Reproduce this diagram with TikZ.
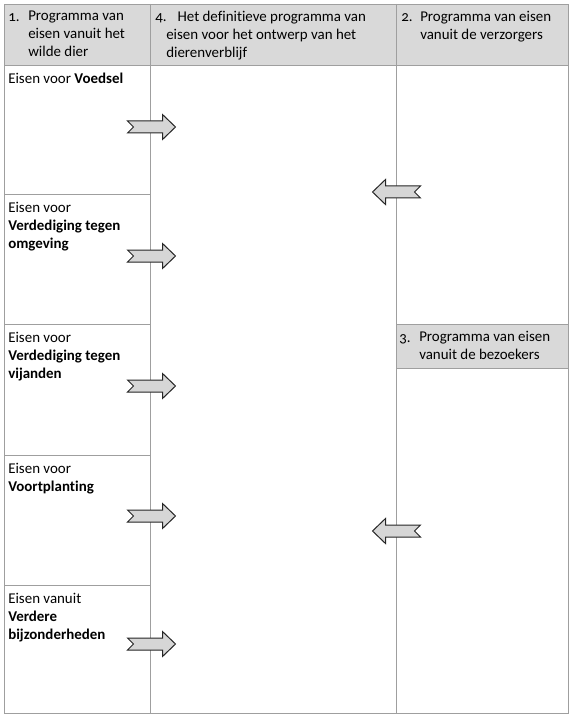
\documentclass[tikz,border=0pt]{standalone}
\usepackage{fontspec}
\setmainfont{Carlito}[Ligatures=NoCommon]
\newfontfamily\oldnum{Carlito}[Numbers=OldStyle]
\begin{document}
\begin{tikzpicture}[x=0.75pt,y=-0.75pt,
  grid/.style={draw=gray!75,line width=0.6pt},
  headfill/.style={fill=black!15,draw=none},
  cell/.style={anchor=north west,inner sep=0pt,align=left,font=\fontsize{11.2pt}{13.5pt}\selectfont,
    execute at begin node=\rule{0pt}{8pt}},
  numcell/.style={cell,font=\fontsize{11.2pt}{13.5pt}\selectfont\oldnum},
  arrowshape/.style={draw=black!85,fill=black!16,line width=0.75pt,line join=miter},
  rarrow/.pic={\path[arrowshape] (-24,-6) -- (11,-6) -- (11,-12.5) -- (24,0) -- (11,12.5) -- (11,6) -- (-24,6) -- (-18,0) -- cycle;},
  larrow/.pic={\path[arrowshape,xscale=-1] (-24,-6) -- (11,-6) -- (11,-12.5) -- (24,0) -- (11,12.5) -- (11,6) -- (-24,6) -- (-18,0) -- cycle;}
]
\useasboundingbox (0,0) rectangle (575,720);
% header fills
\path[headfill] (4,4) rectangle (568,65);
\path[headfill] (396,324) rectangle (568,368);
% grid
\draw[grid] (4,4) rectangle (568,713);
\draw[grid] (150,4) -- (150,713);
\draw[grid] (396,4) -- (396,713);
\draw[grid] (4,65) -- (568,65);
\foreach \yy in {194,324,455,585} \draw[grid] (4,\yy) -- (150,\yy);
\draw[grid] (396,324) -- (568,324);
\draw[grid] (396,368) -- (568,368);
% header texts (node placed 10.67px above first baseline)
\node[numcell] (h1n) at (8,10.8) {1.};
\node[cell] (h1) at (28,10.8) {Programma van\\eisen vanuit het\\wilde dier};
\node[numcell] (h4n) at (155,10.8) {4.};
\node[cell] (h4) at (166,10.8) {\hspace*{8.5pt}Het definitieve programma van\\eisen voor het ontwerp van het\\dierenverblijf};
\node[numcell] (h2n) at (401,10.8) {2.};
\node[cell] (h2) at (420,10.8) {Programma van eisen\\vanuit de verzorgers};
\node[numcell] (h3n) at (399,331.3) {3.};
\node[cell] (h3) at (419,331.3) {Programma van eisen\\vanuit de bezoekers};
% row texts
\node[cell] (r1) at (8,72.8) {Eisen voor \textbf{Voedsel}};
\node[cell] (r2) at (8,201.8) {Eisen voor\\\textbf{Verdediging tegen}\\\textbf{omgeving}};
\node[cell] (r3) at (8,331.8) {Eisen voor\\\textbf{Verdediging tegen}\\\textbf{vijanden}};
\node[cell] (r4) at (8,462.8) {Eisen voor\\\textbf{Voortplanting}};
\node[cell] (r5) at (8,592.8) {Eisen vanuit\\\textbf{Verdere}\\\textbf{bijzonderheden}};
% arrows
\pic at (151.5,127) {rarrow};
\pic at (151.5,256) {rarrow};
\pic at (151.5,386) {rarrow};
\pic at (151.5,516) {rarrow};
\pic at (151.5,644) {rarrow};
\pic at (396.5,192) {larrow};
\pic at (396.5,531) {larrow};
\end{tikzpicture}
\end{document}
